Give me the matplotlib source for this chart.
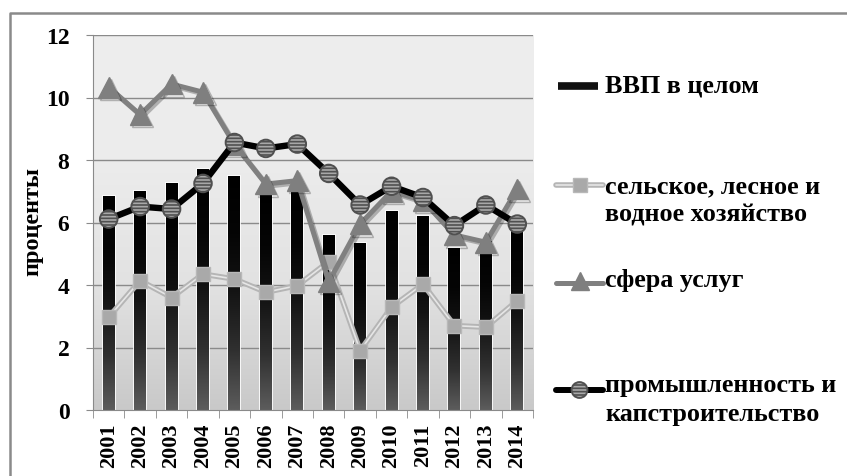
import numpy as np
import matplotlib
matplotlib.use('Agg')
import matplotlib.pyplot as plt
from matplotlib.colors import LinearSegmentedColormap
import matplotlib.patheffects as pe

plt.rcParams['font.family'] = ['Liberation Serif', 'DejaVu Serif']
plt.rcParams['font.weight'] = 'bold'
plt.rcParams['hatch.color'] = 'white'
plt.rcParams['hatch.linewidth'] = 1.2

# данные
years = ['2001', '2002', '2003', '2004', '2005', '2006', '2007',
         '2008', '2009', '2010', '2011', '2012', '2013', '2014']
vvp = [6.85, 7.02, 7.27, 7.71, 7.5, 7.0, 7.1, 5.61, 5.35, 6.37, 6.2, 5.2, 5.4, 5.98]
selskoe = [2.97, 4.14, 3.6, 4.35, 4.19, 3.77, 3.98, 4.75, 1.9, 3.29, 4.03, 2.7, 2.65, 3.5]
uslugi = [10.33, 9.45, 10.43, 10.17, 8.5, 7.23, 7.34, 4.1, 5.95, 7.0, 6.7, 5.6, 5.37, 7.07]
promysh = [6.11, 6.51, 6.43, 7.25, 8.56, 8.37, 8.51, 7.57, 6.56, 7.16, 6.8, 5.9, 6.56, 5.95]
legend_labels = ['ВВП в целом', 'сельское, лесное и\nводное хозяйство',
                 'сфера услуг', 'промышленность и\nкапстроительство']
yticks = [0, 2, 4, 6, 8, 10, 12]

W, H = 847, 477
fig = plt.figure(figsize=(W / 100, H / 100), dpi=100)
fig.patch.set_facecolor('white')

ax = fig.add_axes([93 / W, 1 - 411 / H, 440 / W, 375 / H])
x = np.arange(len(years))

# фон области построения (градиент)
bg = LinearSegmentedColormap.from_list('bg', ['#c9c9c9', '#e2e2e2', '#ececec', '#eeeeee'])
ax.imshow(np.linspace(0, 1, 256).reshape(-1, 1), cmap=bg, origin='lower',
          extent=[0, 1, 0, 1], transform=ax.transAxes, aspect='auto', zorder=0)

for v in yticks[1:]:
    ax.axhline(v, color='#8a8a8a', lw=1.0, zorder=1)

# столбцы ВВП с градиентом
bar_cmap = LinearSegmentedColormap.from_list('bar', ['#5c5c5c', '#303030', '#141414', '#050505', '#000000'])
bars = ax.bar(x, vvp, width=0.38, color='black', edgecolor='white', linewidth=1.2, zorder=2)
for b in bars:
    x0, h, w = b.get_x(), b.get_height(), b.get_width()
    im = ax.imshow(np.linspace(0, 1, 128).reshape(-1, 1), cmap=bar_cmap, origin='lower',
                   extent=[x0, x0 + w, 0, h], aspect='auto', zorder=2.1)
    im.set_clip_path(b)
ax.set_xlim(-0.5, len(years) - 0.5)
ax.set_ylim(0, 12)

shadow = [pe.SimpleLineShadow(offset=(1.5, -1.5), alpha=0.25), pe.Normal()]

# сельское хозяйство
ax.plot(x, selskoe, color='#e6e6e6', lw=1.2, zorder=3,
        path_effects=[pe.Stroke(linewidth=4, foreground='#b5b5b5'), pe.Normal()])
ax.plot(x, selskoe, ls='none', marker='s', ms=10.5, mfc='#a9a9a9', mec='#b8b8b8',
        mew=1, zorder=3.2)

# сфера услуг
ax.plot(x, uslugi, color='#808080', lw=3.6, zorder=4, solid_joinstyle='round',
        path_effects=shadow)
ax.plot(x, uslugi, ls='none', marker='^', ms=15, color='#7f7f7f', zorder=4.2,
        path_effects=shadow)

# промышленность
ax.plot(x, promysh, color='black', lw=4.6, zorder=5, solid_joinstyle='round')
ax.scatter(x, promysh, s=160, facecolor='#a8a8a8', edgecolor='#505050', linewidth=1.4,
           hatch='-----', zorder=6)

# оси
for s in ['top', 'right']:
    ax.spines[s].set_visible(False)
ax.spines['left'].set_color('#8a8a8a')
ax.spines['bottom'].set_color('#8a8a8a')
ax.set_yticks(yticks)
ax.set_yticklabels([str(v) for v in yticks], fontsize=17, fontweight='bold')
ax.tick_params(axis='y', length=5, color='#8a8a8a', pad=12)
ax.set_xticks(x)
ax.set_xticklabels(years, rotation=90, fontsize=16, fontweight='bold')
ax.tick_params(axis='x', which='major', length=0, pad=9)
ax.set_xticks(np.arange(-0.5, len(years)), minor=True)
ax.tick_params(axis='x', which='minor', length=6, color='#8a8a8a')
ax.set_ylabel('проценты', fontsize=17.5, fontweight='bold')
ax.yaxis.set_label_coords((43 - 93) / 440, (411 - 222) / 375)

# рамка
ov = fig.add_axes([0, 0, 1, 1], zorder=-1)
ov.set_xlim(0, W)
ov.set_ylim(H, 0)
ov.axis('off')
ov.plot([9.5, 9.5, W + 5], [H + 5, 13.5, 13.5], color='#8a8a8a', lw=1.8)

# легенда в пиксельных координатах
lg = fig.add_axes([0, 0, 1, 1])
lg.set_xlim(0, W)
lg.set_ylim(H, 0)
lg.axis('off')
hx = [556, 603]
lg.plot([558, 598], [87, 87], color='#111111', lw=5.5, solid_capstyle='butt')
lg.plot(hx, [186, 186], color='#e6e6e6', lw=1.2, solid_capstyle='round',
        path_effects=[pe.Stroke(linewidth=4, foreground='#b5b5b5'), pe.Normal()])
lg.plot([579.5], [186], marker='s', ms=10, mfc='#a9a9a9', mec='#b8b8b8')
lg.plot(hx, [284, 284], color='#808080', lw=3.6, solid_capstyle='round')
lg.plot([579.5], [282], marker='^', ms=13, color='#7f7f7f')
lg.plot(hx, [391, 391], color='black', lw=4.3, solid_capstyle='round')
lg.scatter([579.5], [391], s=130, facecolor='#a8a8a8', edgecolor='#505050',
           linewidth=1.4, hatch='-----', zorder=5)
label_y = [86, 201, 281, 400]
for ly, txt in zip(label_y, legend_labels):
    lg.text(605, ly, txt, fontsize=18.8, fontweight='bold', va='center', ha='left',
            linespacing=1.3)

fig.savefig('out.png', dpi=100)
